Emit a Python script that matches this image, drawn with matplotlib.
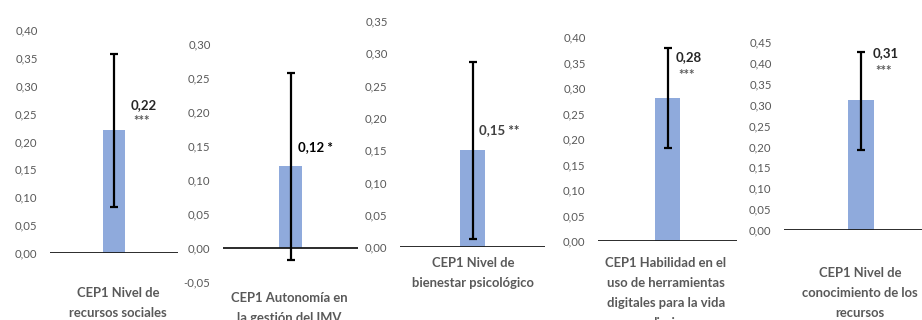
import matplotlib
matplotlib.use("Agg")
import matplotlib.pyplot as plt
from matplotlib.ticker import FuncFormatter, MultipleLocator

plt.rcParams["font.family"] = ["Lato", "DejaVu Sans"]

categories = [
    "CEP1 Nivel de\nrecursos sociales",
    "CEP1 Autonomía en\nla gestión del IMV",
    "CEP1 Nivel de\nbienestar psicológico",
    "CEP1 Habilidad en el\nuso de herramientas\ndigitales para la vida\ndiaria",
    "CEP1 Nivel de\nconocimiento de los\nrecursos",
]
values = [0.22, 0.12, 0.15, 0.28, 0.31]
ci_low = [0.083, -0.018, 0.012, 0.182, 0.192]
ci_high = [0.357, 0.257, 0.287, 0.378, 0.427]
value_labels = ["0,22", "0,12", "0,15", "0,28", "0,31"]
stars = ["***", "*", "**", "***", "***"]
y_ranges = [(0.0, 0.40), (-0.05, 0.30), (0.0, 0.35), (0.0, 0.40), (0.0, 0.45)]

W, H = 922, 320
fig = plt.figure(figsize=(W / 100, H / 100), dpi=100)

# panel boxes in pixels: left, right, top (ymax), bottom (ymin)
boxes = [(50, 178, 30, 253), (223, 358, 44, 282), (400, 545, 21, 247),
         (598, 737, 37, 241), (784, 938, 42, 230)]
# category label: center x, center y of first line (pixels)
cat_pos = [(118, 293), (289, 298), (473, 263), (666, 263), (860, 273)]
line_step = 20
# value label positions (left x, center y), star line y (None = same line)
val_pos = [(131, 105, 118), (298, 147, None), (479, 130, None),
           (676, 57, 72), (873, 53, 68)]
val_color = ["#262626", "#000000", "#404040", "#262626", "#262626"]

bar_color = "#8FAADC"
gray = "#595959"
fmt = FuncFormatter(lambda v, p: f"{v:.2f}".replace(".", ",").replace("-0,00", "0,00"))

for i in range(5):
    L, R, T, B = boxes[i]
    ax = fig.add_axes([L / W, 1 - B / H, (R - L) / W, (B - T) / H])
    ax.set_xlim(0, 1)
    ax.set_ylim(*y_ranges[i])
    ax.bar(0.5, values[i], width=0.175, color=bar_color, zorder=2)
    ax.errorbar(0.5, values[i],
                yerr=[[values[i] - ci_low[i]], [ci_high[i] - values[i]]],
                fmt="none", ecolor="black", elinewidth=1.6, capsize=3.2,
                capthick=1.6, zorder=4)
    ax.axhline(0, color="#1a1a1a", lw=1.3, zorder=3)
    for s in ax.spines.values():
        s.set_visible(False)
    ax.set_xticks([])
    ax.yaxis.set_major_locator(MultipleLocator(0.05))
    ax.yaxis.set_major_formatter(fmt)
    ax.tick_params(axis="y", length=0, pad=9, labelsize=8.2, labelcolor=gray)
    ax.patch.set_alpha(0)

    cx, cy = cat_pos[i]
    for k, line in enumerate(categories[i].split("\n")):
        fig.text(cx / W, 1 - (cy + k * line_step) / H, line, ha="center",
                 va="center", fontsize=9.4, fontweight="bold", color=gray)

    vx, vy, sy = val_pos[i]
    if sy is None:
        fig.text(vx / W, 1 - vy / H, value_labels[i] + " " + stars[i],
                 ha="left", va="center", fontsize=9.5, fontweight="bold",
                 color=val_color[i])
    else:
        fig.text(vx / W, 1 - vy / H, value_labels[i], ha="left", va="center",
                 fontsize=9.5, fontweight="bold", color=val_color[i])
        fig.text((vx + 11) / W, 1 - (sy + 3) / H, stars[i], ha="center",
                 va="center", fontsize=9.5, fontweight="bold", color=gray)

fig.savefig("out.png", dpi=100)
